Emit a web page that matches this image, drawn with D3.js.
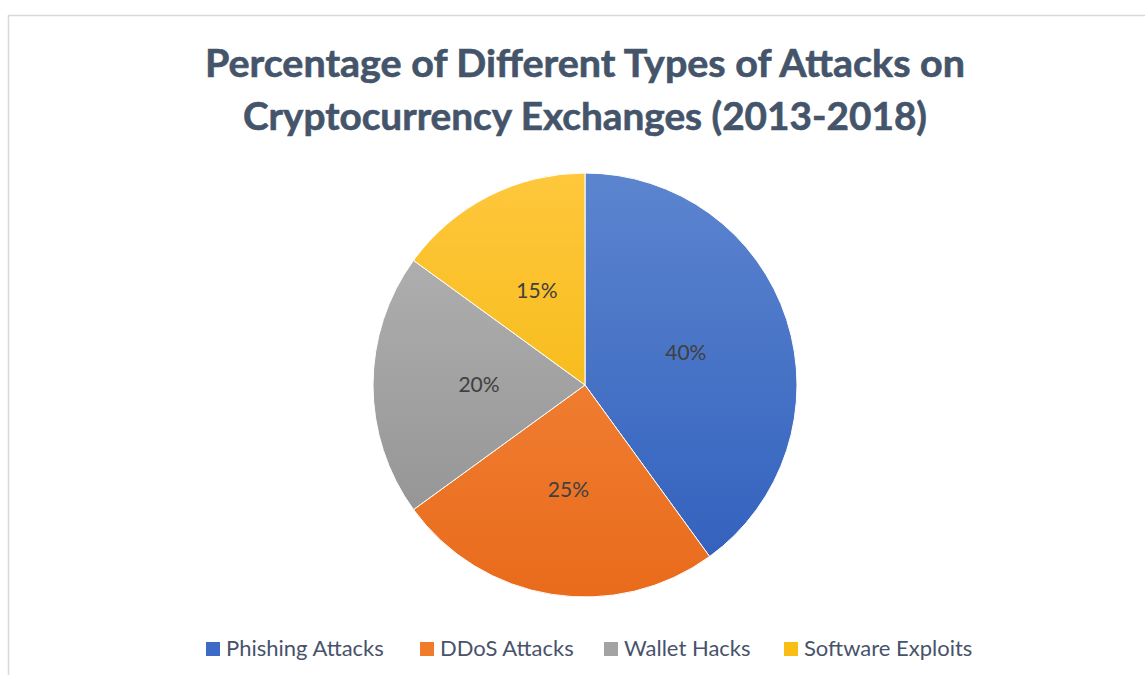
<!DOCTYPE html>
<html>
<head>
<meta charset="utf-8">
<script src="https://cdn.jsdelivr.net/npm/d3@7"></script>
<style>
  html, body { margin: 0; padding: 0; background: #fff; }
  svg { display: block; font-family: Lato, Carlito, "Open Sans", sans-serif; }
</style>
</head>
<body>
<div id="chart"></div>
<script>
// Data
const categories = ['Phishing Attacks', 'DDoS Attacks', 'Wallet Hacks', 'Software Exploits'];
const shares = [40, 25, 20, 15];
const sliceTop = ['#5c85cf', '#f68e47', '#b6b6b6', '#ffc73c'];
const sliceBottom = ['#2f5ebc', '#e96b1b', '#8e8e8e', '#efb300'];
const legendColors = ['#3d6ac4', '#ef7b2b', '#a3a3a3', '#f8be14'];
const titleLines = ['Percentage of Different Types of Attacks on', 'Cryptocurrency Exchanges (2013-2018)'];

const W = 1145, H = 675;
const cx = 585, cy = 385, R = 212;

const svg = d3.select('#chart').append('svg')
  .attr('width', W)
  .attr('height', H);

// chart area border (runs past the right/bottom edge like the screenshot)
svg.append('rect')
  .attr('x', 8.5).attr('y', 15.5)
  .attr('width', 1300).attr('height', 800)
  .attr('fill', '#fff')
  .attr('stroke', '#d9d9d9')
  .attr('stroke-width', 1.5);

// title
const title = svg.append('g').attr('class', 'title');
const titleWidths = [760, 684];
titleLines.forEach((line, i) => {
  title.append('text')
    .attr('x', cx)
    .attr('y', 77 + i * 53)
    .attr('text-anchor', 'middle')
    .attr('font-size', 38)
    .attr('font-weight', 700)
    .attr('fill', '#44546a')
    .attr('stroke', '#44546a')
    .attr('stroke-width', 0.6)
    .attr('textLength', titleWidths[i])
    .attr('lengthAdjust', 'spacingAndGlyphs')
    .text(line);
});

// gradients per slice (slice paths are drawn around 0,0)
const defs = svg.append('defs');
categories.forEach((c, i) => {
  const g = defs.append('linearGradient')
    .attr('id', 'grad' + i)
    .attr('gradientUnits', 'userSpaceOnUse')
    .attr('x1', 0).attr('y1', -R)
    .attr('x2', 0).attr('y2', R);
  g.append('stop').attr('offset', '0%').attr('stop-color', sliceTop[i]);
  g.append('stop').attr('offset', '100%').attr('stop-color', sliceBottom[i]);
});

const pie = d3.pie().sort(null).value(d => d.v);
const arcs = pie(shares.map((v, i) => ({ v, i, name: categories[i] })));
const arc = d3.arc().innerRadius(0).outerRadius(R);

const chartArea = svg.append('g')
  .attr('transform', `translate(${cx},${cy})`);

chartArea.selectAll('.slice')
  .data(arcs)
  .join('path')
  .attr('class', 'slice')
  .attr('d', arc)
  .attr('fill', d => `url(#grad${d.data.i})`)
  .attr('stroke', '#fff')
  .attr('stroke-width', 1);

// data labels at the arc centroid
chartArea.selectAll('.label')
  .data(arcs)
  .join('text')
  .attr('class', 'label')
  .attr('transform', d => `translate(${arc.centroid(d)})`)
  .attr('text-anchor', 'middle')
  .attr('dy', '0.35em')
  .attr('font-size', 21)
  .attr('fill', '#404040')
  .text(d => d.data.v + '%');

// legend
const legendX = [206, 420, 604, 784];
const legend = svg.append('g').attr('class', 'legend');
categories.forEach((c, i) => {
  const item = legend.append('g').attr('transform', `translate(${legendX[i]},642)`);
  item.append('rect')
    .attr('width', 14).attr('height', 14)
    .attr('fill', legendColors[i]);
  item.append('text')
    .attr('x', 20)
    .attr('y', 14)
    .attr('font-size', 22)
    .attr('fill', '#48536a')
    .text(c);
});
</script>
</body>
</html>
